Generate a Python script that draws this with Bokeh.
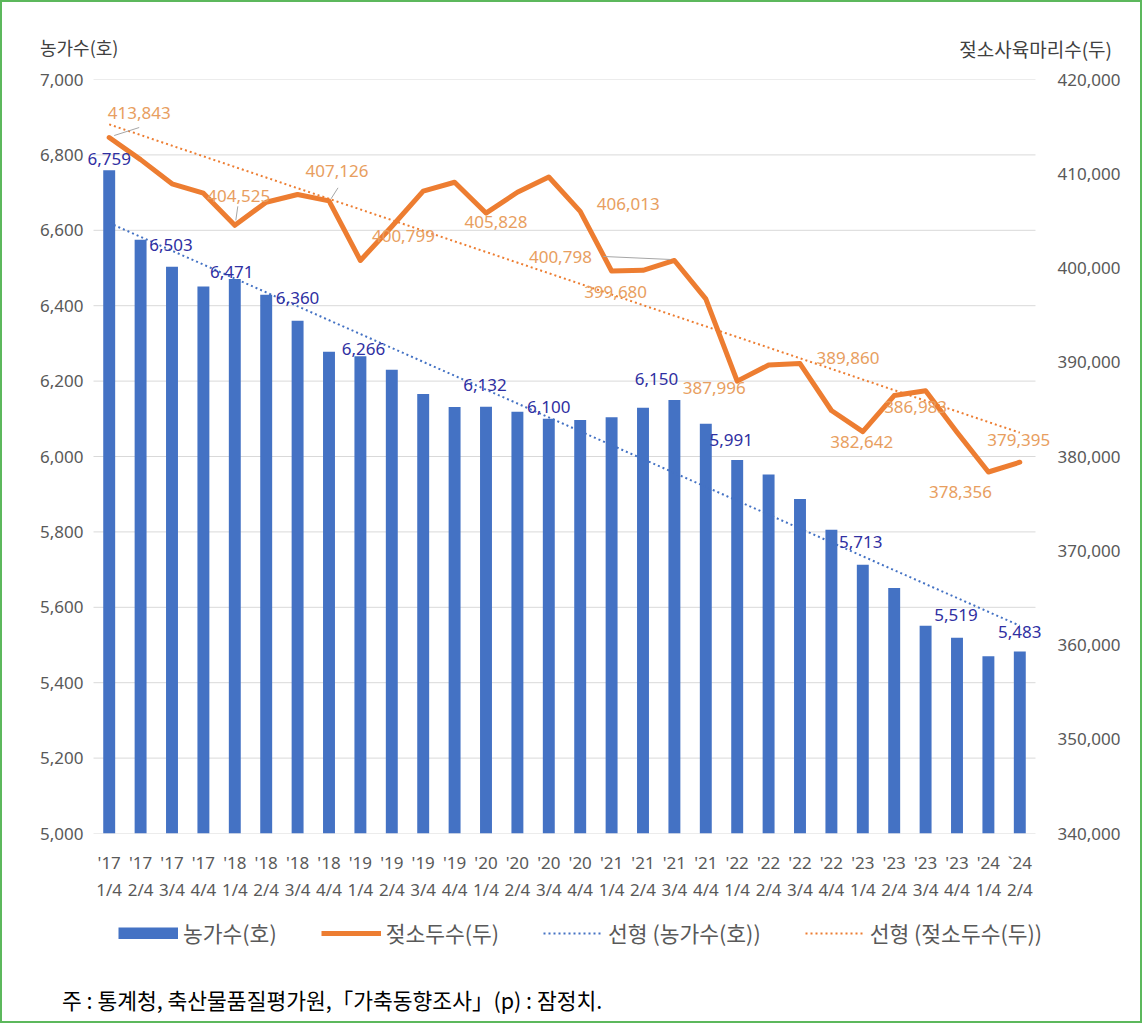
import numpy as np
from bokeh.plotting import figure
from bokeh.layouts import column
from bokeh.models import (Range1d, LinearAxis, NumeralTickFormatter, FixedTicker,
                          Legend, LegendItem, Div)
from bokeh.core.properties import value
from bokeh.embed import file_html
from bokeh.resources import INLINE

# ---------------- data ----------------
years = ["'17", "'17", "'17", "'17", "'18", "'18", "'18", "'18",
         "'19", "'19", "'19", "'19", "'20", "'20", "'20", "'20",
         "'21", "'21", "'21", "'21", "'22", "'22", "'22", "'22",
         "'23", "'23", "'23", "'23", "'24", "`24"]
quarters = ["1/4", "2/4", "3/4", "4/4", "1/4", "2/4", "3/4", "4/4",
            "1/4", "2/4", "3/4", "4/4", "1/4", "2/4", "3/4", "4/4",
            "1/4", "2/4", "3/4", "4/4", "1/4", "2/4", "3/4", "4/4",
            "1/4", "2/4", "3/4", "4/4", "1/4", "2/4"]
farms = [6759, 6575, 6503, 6451, 6471, 6429, 6360, 6278, 6266, 6230,
         6166, 6131, 6132, 6119, 6100, 6097, 6104, 6129, 6150, 6087,
         5991, 5952, 5887, 5806, 5713, 5651, 5551, 5519, 5470, 5483]
cows = [413843, 411500, 408930, 407940, 404525, 406980, 407800, 407126, 400799, 404400,
        408150, 409100, 405828, 408040, 409650, 406013, 399680, 399750, 400798, 396730,
        387996, 389700, 389860, 384880, 382642, 386470, 386983, 382580, 378356, 379395]

farm_label_idx = [1, 3, 5, 7, 9, 13, 15, 19, 21, 25, 28, 30]
cow_label_idx = [1, 5, 8, 9, 13, 16, 17, 19, 21, 23, 25, 27, 29, 30]

left_ticks = [5000, 5200, 5400, 5600, 5800, 6000, 6200, 6400, 6600, 6800, 7000]
right_ticks = [340000, 350000, 360000, 370000, 380000, 390000, 400000, 410000, 420000]

series_names = ["농가수(호)", "젖소두수(두)", "선형 (농가수(호))", "선형 (젖소두수(두))"]
title_left = "농가수(호)"
title_right = "젖소사육마리수(두)"
footnote = "주 : 통계청, 축산물품질평가원,「가축동향조사」(p) : 잠정치."

# ---------------- layout (pixel offsets of labels, dy positive = up) ----------------
farm_label_off = [(0, 11), (-1, 22), (-3, 7), (0, 23), (3, 7), (-1, 22), (0, 12),
                  (-18, 21), (-6, 20), (-2, 23), (-1, 23), (0, 19)]
cow_label_off = [(30, 25), (4, 29), (8, 30), (43, 24), (10, -9), (48, 7), (4, -21),
                 (-114, 3), (-23, -7), (48, 6), (-1, -10), (-10, -16), (-28, -20), (-1, 22)]
# leader lines: (cow index, start dx, dy, end dx, dy) in px relative to the point
leaders = [(1, 5, 2, 30, 10), (5, 1, 5, 3, 19), (8, 2, 2, 9, 13), (19, -4, 1, -71, 4)]

W = 1142
H_TOP, H_MAIN, H_LEG, H_FOOT = 64, 839, 66, 54
CAT_PX = 942 / 30            # pixel width of one category
PLOT_L, PLOT_R = 93, 1035    # where the chart area (gridlines) lies
EXT_L, EXT_R = 10, 18        # extra frame room so labels are not clipped
FL = PLOT_L - EXT_L
FR = W - (PLOT_R + EXT_R)
FT, FB = 15, 70
frame_h = H_MAIN - FT - FB

n = len(farms)
xs = list(range(1, n + 1))
x0 = 0.5 - EXT_L / CAT_PX
x1 = n + 0.5 + EXT_R / CAT_PX
yl0, yl1 = 5000, 7000
yr0, yr1 = 340000, 420000
ux = 1 / CAT_PX
uyl = (yl1 - yl0) / frame_h
uyr = (yr1 - yr0) / frame_h

FONT_NUM = "Noto Sans"
FONT_KR = "Noto Sans CJK KR"
GRAY = "#595959"
BLUE = "#4472C4"
ORANGE = "#ED7D31"
BLUE_LBL = "#2F2FA2"
ORANGE_LBL = "#E89E60"
GREEN = "#5CB85C"

# ---------------- top: axis titles ----------------
top = Div(width=W, height=H_TOP, margin=0, text=(
    f'<div style="position:relative;width:{W}px;height:{H_TOP}px;'
    f'font-family:\'{FONT_KR}\';font-size:18px;line-height:18px;color:#404040;">'
    f'<span style="position:absolute;left:40px;top:38px;white-space:nowrap;">{title_left}</span>'
    f'<span style="position:absolute;right:{W - 1112}px;top:40px;white-space:nowrap;'
    f'font-size:19px;">{title_right}</span>'
    '</div>'))

# ---------------- main chart ----------------
p = figure(width=W, height=H_MAIN, x_range=Range1d(x0, x1), y_range=Range1d(yl0, yl1),
           output_backend="svg", toolbar_location=None,
           min_border_left=FL, min_border_right=FR, min_border_top=FT, min_border_bottom=FB)
p.extra_y_ranges = {"right": Range1d(yr0, yr1)}
p.outline_line_color = None
p.background_fill_color = "white"
p.border_fill_alpha = 0
p.grid.visible = False

# horizontal gridlines across the chart area only
p.segment(x0=[0.5] * len(left_ticks), y0=left_ticks, x1=[n + 0.5] * len(left_ticks),
          y1=left_ticks, line_color="#D9D9D9", line_width=1)

yl = p.yaxis[0]
yl.ticker = FixedTicker(ticks=left_ticks)
yl.formatter = NumeralTickFormatter(format="0,0")
yr = LinearAxis(y_range_name="right", ticker=FixedTicker(ticks=right_ticks),
                formatter=NumeralTickFormatter(format="0,0"))
p.add_layout(yr, "right")
xa = p.xaxis[0]
xa.ticker = FixedTicker(ticks=xs)
xa.major_label_overrides = {i + 1: f"{years[i]}\n{quarters[i]}" for i in range(n)}
for ax in (yl, yr, xa):
    ax.axis_line_color = None
    ax.major_tick_line_color = None
    ax.minor_tick_line_color = None
    ax.major_tick_out = 0
    ax.major_tick_in = 0
    ax.major_label_text_color = GRAY
    ax.major_label_text_font = FONT_NUM
    ax.major_label_text_font_size = "17px"
yl.major_label_standoff = 0
yr.major_label_standoff = 4
xa.major_label_standoff = 17
xa.major_label_text_line_height = 1.18

bars = p.vbar(x=xs, top=farms, bottom=yl0, width=0.38, fill_color=BLUE, line_color=None)

xa_np = np.array(xs, dtype=float)
bf = np.polyfit(xa_np, np.array(farms, dtype=float), 1)
bc = np.polyfit(xa_np, np.array(cows, dtype=float), 1)
p.line([1, n], [bf[0] * 1 + bf[1], bf[0] * n + bf[1]], line_color=BLUE,
       line_width=2, line_dash="2 3")
p.line(xs, cows, y_range_name="right", line_color=ORANGE, line_width=5,
       line_join="round", line_cap="round")
p.line([1, n], [bc[0] * 1 + bc[1], bc[0] * n + bc[1]], y_range_name="right",
       line_color=ORANGE, line_width=2, line_dash="2 3")

lx0, ly0, lx1, ly1 = [], [], [], []
for (i, sdx, sdy, edx, edy) in leaders:
    lx0.append(i + sdx * ux)
    ly0.append(cows[i - 1] + sdy * uyr)
    lx1.append(i + edx * ux)
    ly1.append(cows[i - 1] + edy * uyr)
p.segment(lx0, ly0, lx1, ly1, y_range_name="right", line_color="#A6A6A6", line_width=1)

fx, fy, ft = [], [], []
for i, (dx, dy) in zip(farm_label_idx, farm_label_off):
    fx.append(i + dx * ux)
    fy.append(farms[i - 1] + dy * uyl)
    ft.append(f"{farms[i - 1]:,}")
p.text(fx, fy, ft, text_align="center", text_baseline="middle", text_color=BLUE_LBL,
       text_font=value(FONT_NUM), text_font_size="17px")

cx, cy, ct = [], [], []
for i, (dx, dy) in zip(cow_label_idx, cow_label_off):
    cx.append(i + dx * ux)
    cy.append(cows[i - 1] + dy * uyr)
    ct.append(f"{cows[i - 1]:,}")
p.text(cx, cy, ct, y_range_name="right", text_align="center", text_baseline="middle",
       text_color=ORANGE_LBL, text_font=value(FONT_NUM), text_font_size="17px")

# ---------------- legend strip ----------------
leg = figure(width=W, height=H_LEG, x_range=Range1d(FL, W - FR), y_range=Range1d(0, H_LEG),
             output_backend="svg", toolbar_location=None,
             x_axis_location=None, y_axis_location=None,
             min_border_left=FL, min_border_right=FR, min_border_top=0, min_border_bottom=0)
leg.grid.visible = False
leg.outline_line_color = None
leg.background_fill_alpha = 0
leg.border_fill_alpha = 0
# legend swatch proxies, kept outside the visible range of this strip
r_bar = leg.line(x=[-500, -400], y=[1, 1], line_color=BLUE, line_width=12, line_cap="butt")
r_line = leg.line(x=[-500, -400], y=[1, 1], line_color=ORANGE, line_width=5)
r_tb = leg.line(x=[-500, -400], y=[1, 1], line_color=BLUE, line_width=2, line_dash="2 3")
r_tc = leg.line(x=[-500, -400], y=[1, 1], line_color=ORANGE, line_width=2, line_dash="2 3")
legend = Legend(items=[
    LegendItem(label=series_names[0], renderers=[r_bar]),
    LegendItem(label=series_names[1], renderers=[r_line]),
    LegendItem(label=series_names[2], renderers=[r_tb]),
    LegendItem(label=series_names[3], renderers=[r_tc]),
], orientation="horizontal", location=(118 - FL, H_LEG - 34 - 11))
legend.glyph_width = 60
legend.glyph_height = 12
legend.label_height = 22
legend.label_standoff = 5
legend.spacing = 44
legend.padding = 0
legend.margin = 0
legend.border_line_color = None
legend.background_fill_alpha = 0
legend.label_text_font = FONT_KR
legend.label_text_font_size = "21.5px"
legend.label_text_color = GRAY
legend.label_text_baseline = "middle"
leg.add_layout(legend, "center")

# ---------------- footnote ----------------
foot = Div(width=W, height=H_FOOT, margin=0, text=(
    f'<div style="position:relative;width:{W}px;height:{H_FOOT}px;'
    f'font-family:\'{FONT_KR}\';font-size:21.5px;line-height:22px;color:#000000;">'
    f'<span style="position:absolute;left:62px;top:{1000 - (1023 - H_FOOT) - 11}px;'
    f'white-space:nowrap;">{footnote}</span></div>'))

layout = column(top, p, leg, foot, spacing=0,
                styles={"outline": f"2px solid {GREEN}", "outline-offset": "-2px",
                        "background-color": "white"})
open("out.html", "w").write(file_html(layout, INLINE))
